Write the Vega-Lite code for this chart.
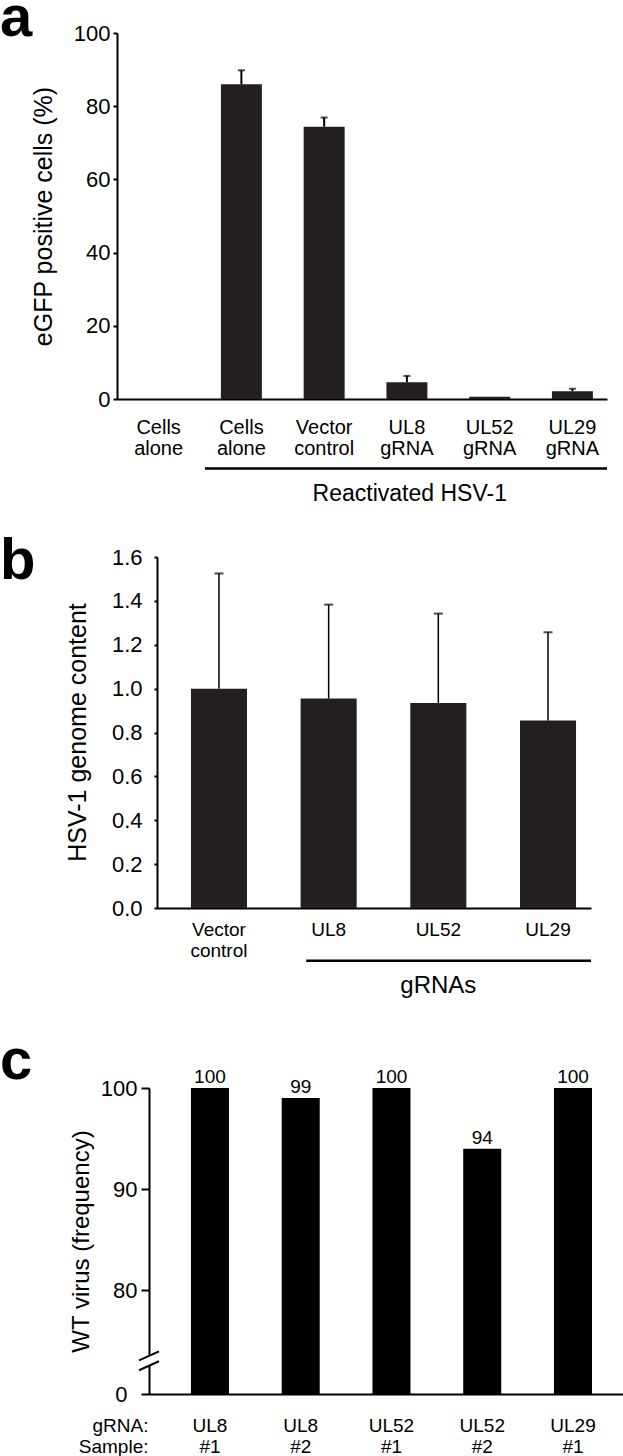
{
  "$schema": "https://vega.github.io/schema/vega-lite/v6.json",
  "padding": {"left": 0, "top": -10, "right": 0, "bottom": 0},
  "background": "white",
  "config": {
    "font": "Liberation Sans",
    "view": {"stroke": null},
    "axis": {"domainColor": "black", "tickColor": "black", "labelColor": "black", "titleColor": "black", "titleFontWeight": "normal", "grid": false, "labelFont": "Liberation Sans", "titleFont": "Liberation Sans"},
    "title": {"color": "black", "font": "Liberation Sans", "fontWeight": "bold", "fontSize": 58, "anchor": "start", "frame": "group", "offset": 0, "baseline": "alphabetic", "dx": -117},
    "text": {"font": "Liberation Sans", "color": "black"}
  },
  "bounds": "flush",
  "spacing": 158,
  "vconcat": [
    {
      "width": 490,
      "height": 366,
      "title": {"text": "a", "dy": 30},
      "data": {"values": [
        {"condition": "Cells alone", "percent": 0},
        {"condition": "Cells alone (reactivated)", "percent": 86.0, "upper": 89.8},
        {"condition": "Vector control", "percent": 74.4, "upper": 76.9},
        {"condition": "UL8 gRNA", "percent": 4.6, "upper": 6.3},
        {"condition": "UL52 gRNA", "percent": 0.6},
        {"condition": "UL29 gRNA", "percent": 2.1, "upper": 2.8}
      ]},
      "encoding": {
        "x": {"field": "condition", "type": "nominal", "sort": null,
          "scale": {"domain": ["Cells alone", "Cells alone (reactivated)", "Vector control", "UL8 gRNA", "UL52 gRNA", "UL29 gRNA"], "paddingInner": 0.505, "paddingOuter": 0.213, "align": 0.6},
          "axis": {"title": null, "labelAngle": 0, "ticks": false, "tickSize": 0, "labelPadding": 18, "labelFontSize": 20, "labelLineHeight": 21, "domainWidth": 2, "labelOverlap": false,
            "labelExpr": "split(replace(datum.label, ' (reactivated)', ''), ' ')"}}
      },
      "layer": [
        {
          "transform": [{"filter": "datum.percent > 0"}],
          "mark": {"type": "bar", "fill": "#231f20"},
          "encoding": {
            "y": {"field": "percent", "type": "quantitative",
              "scale": {"domain": [0, 100], "nice": false},
              "axis": {"title": "eGFP positive cells (%)", "values": [0, 20, 40, 60, 80, 100], "tickSize": 4, "tickWidth": 2, "domainWidth": 2, "labelPadding": 3, "labelFontSize": 22, "titleFontSize": 25, "titleX": -74, "titleY": 183, "titleAlign": "center", "titleBaseline": "middle", "titleAngle": -90}}
          }
        },
        {
          "transform": [{"filter": "isValid(datum.upper)"}],
          "mark": {"type": "rule", "color": "black", "strokeWidth": 2},
          "encoding": {"y": {"field": "percent", "type": "quantitative"}, "y2": {"field": "upper"}}
        },
        {
          "transform": [{"filter": "isValid(datum.upper)"}],
          "mark": {"type": "tick", "color": "black", "thickness": 2, "size": 7},
          "encoding": {"y": {"field": "upper", "type": "quantitative"}}
        },
        {
          "data": {"values": [{"label": "Reactivated HSV-1"}]},
          "mark": {"type": "rule", "color": "black", "strokeWidth": 2.5},
          "encoding": {"x": {"datum": "Cells alone (reactivated)", "bandPosition": -0.39}, "x2": {"value": "width"}, "y": {"datum": -19}}
        },
        {
          "data": {"values": [{"label": "Reactivated HSV-1"}]},
          "mark": {"type": "text", "fontSize": 23, "baseline": "alphabetic", "align": "center"},
          "encoding": {"x": {"datum": "UL8 gRNA", "bandPosition": 0.57}, "y": {"datum": -28}, "text": {"field": "label"}}
        }
      ]
    },
    {
      "bounds": "flush",
      "spacing": 180,
      "vconcat": [
        {
          "width": 474,
          "height": 351,
          "title": {"text": "b", "dy": 49},
          "data": {"values": [
            {"gRNA": "Vector control", "content": 1.0, "upper": 1.525},
            {"gRNA": "UL8", "content": 0.955, "upper": 1.383},
            {"gRNA": "UL52", "content": 0.935, "upper": 1.342},
            {"gRNA": "UL29", "content": 0.855, "upper": 1.257}
          ]},
          "encoding": {
            "x": {"field": "gRNA", "type": "nominal", "sort": null,
              "scale": {"range": [40, 474], "paddingInner": 0.489, "paddingOuter": 0.223, "align": 0.694},
              "axis": {"title": null, "labelAngle": 0, "ticks": false, "tickSize": 0, "labelPadding": 12, "labelFontSize": 19, "labelLineHeight": 21, "domainWidth": 2, "labelOverlap": false,
                "labelExpr": "split(datum.label, ' ')"}}
          },
          "layer": [
            {
              "mark": {"type": "bar", "fill": "#231f20"},
              "encoding": {
                "y": {"field": "content", "type": "quantitative",
                  "scale": {"domain": [0, 1.6], "nice": false},
                  "axis": {"title": "HSV-1 genome content", "values": [0, 0.2, 0.4, 0.6, 0.8, 1.0, 1.2, 1.4, 1.6], "format": ".1f", "offset": -40, "tickSize": 3, "tickWidth": 2, "domainWidth": 2, "labelPadding": 12, "labelFontSize": 22, "titleFontSize": 25, "titleX": -80, "titleY": 175, "titleAlign": "center", "titleBaseline": "middle", "titleAngle": -90}}
              }
            },
            {
              "mark": {"type": "rule", "color": "black", "strokeWidth": 1.5},
              "encoding": {"y": {"field": "content", "type": "quantitative"}, "y2": {"field": "upper"}}
            },
            {
              "mark": {"type": "tick", "color": "black", "thickness": 2, "size": 9},
              "encoding": {"y": {"field": "upper", "type": "quantitative"}}
            },
            {
              "data": {"values": [{"label": "gRNAs"}]},
              "mark": {"type": "rule", "color": "black", "strokeWidth": 2.5},
              "encoding": {"x": {"datum": "UL8", "bandPosition": 0.1}, "x2": {"value": "width"}, "y": {"datum": -0.24}}
            },
            {
              "data": {"values": [{"label": "gRNAs"}]},
              "mark": {"type": "text", "fontSize": 24, "baseline": "alphabetic", "align": "center"},
              "encoding": {"x": {"datum": "UL52"}, "y": {"datum": -0.388}, "text": {"field": "label"}}
            }
          ]
        },
        {
          "width": 506,
          "height": 306,
          "title": {"text": "c", "dy": 27},
          "data": {"values": [
            {"sample": "UL8 #1", "frequency": 100},
            {"sample": "UL8 #2", "frequency": 99},
            {"sample": "UL52 #1", "frequency": 100},
            {"sample": "UL52 #2", "frequency": 94},
            {"sample": "UL29 #1", "frequency": 100}
          ]},
          "encoding": {
            "x": {"field": "sample", "type": "nominal", "sort": null,
              "scale": {"range": [32, 506], "paddingInner": 0.581, "paddingOuter": 0.402, "align": 0.575},
              "axis": {"title": ["gRNA:", "Sample:"], "titleFontSize": 19, "titleLineHeight": 21, "titleAlign": "right", "titleX": 31, "titleY": 37, "titleBaseline": "alphabetic", "titleAngle": 0,
                "labelAngle": 0, "ticks": false, "tickSize": 0, "labelPadding": 22, "labelFontSize": 19, "labelLineHeight": 21, "domainWidth": 2, "labelOverlap": false,
                "labelExpr": "split(datum.label, ' ')"}}
          },
          "layer": [
            {
              "mark": {"type": "bar", "fill": "black"},
              "encoding": {
                "y": {"field": "frequency", "type": "quantitative",
                  "scale": {"domain": [0, 75, 100], "range": [306, 253, 0], "nice": false, "zero": false},
                  "axis": {"title": "WT virus (frequency)", "values": [0, 80, 90, 100], "offset": -32, "tickSize": 8, "tickWidth": 2, "domainWidth": 2,
                    "labelPadding": {"condition": {"test": "datum.value == 0", "value": 14}, "value": 4},
                    "labelFontSize": 22, "titleFontSize": 24, "titleX": -68, "titleY": 153, "titleAlign": "center", "titleBaseline": "middle", "titleAngle": -90}}
              }
            },
            {
              "mark": {"type": "text", "fontSize": 19, "baseline": "alphabetic", "align": "center", "dy": -5},
              "encoding": {"y": {"field": "frequency", "type": "quantitative"}, "text": {"field": "frequency", "type": "quantitative", "format": "d"}}
            },
            {
              "data": {"values": [{"mark": "axis break"}]},
              "mark": {"type": "point", "shape": "M-0.2,-0.42L0.2,-0.42L0.2,0.42L-0.2,0.42Z", "filled": true, "fill": "white", "strokeWidth": 0, "opacity": 1, "size": 576},
              "encoding": {"x": {"value": 32}, "y": {"datum": 47}}
            },
            {
              "data": {"values": [{"mark": "axis break"}]},
              "mark": {"type": "point", "shape": "M-0.83,-0.04L0.83,-0.79M-0.83,0.79L0.83,0.04", "filled": false, "stroke": "black", "strokeWidth": 2, "opacity": 1, "size": 576},
              "encoding": {"x": {"value": 32}, "y": {"datum": 47}}
            }
          ]
        }
      ]
    }
  ]
}
